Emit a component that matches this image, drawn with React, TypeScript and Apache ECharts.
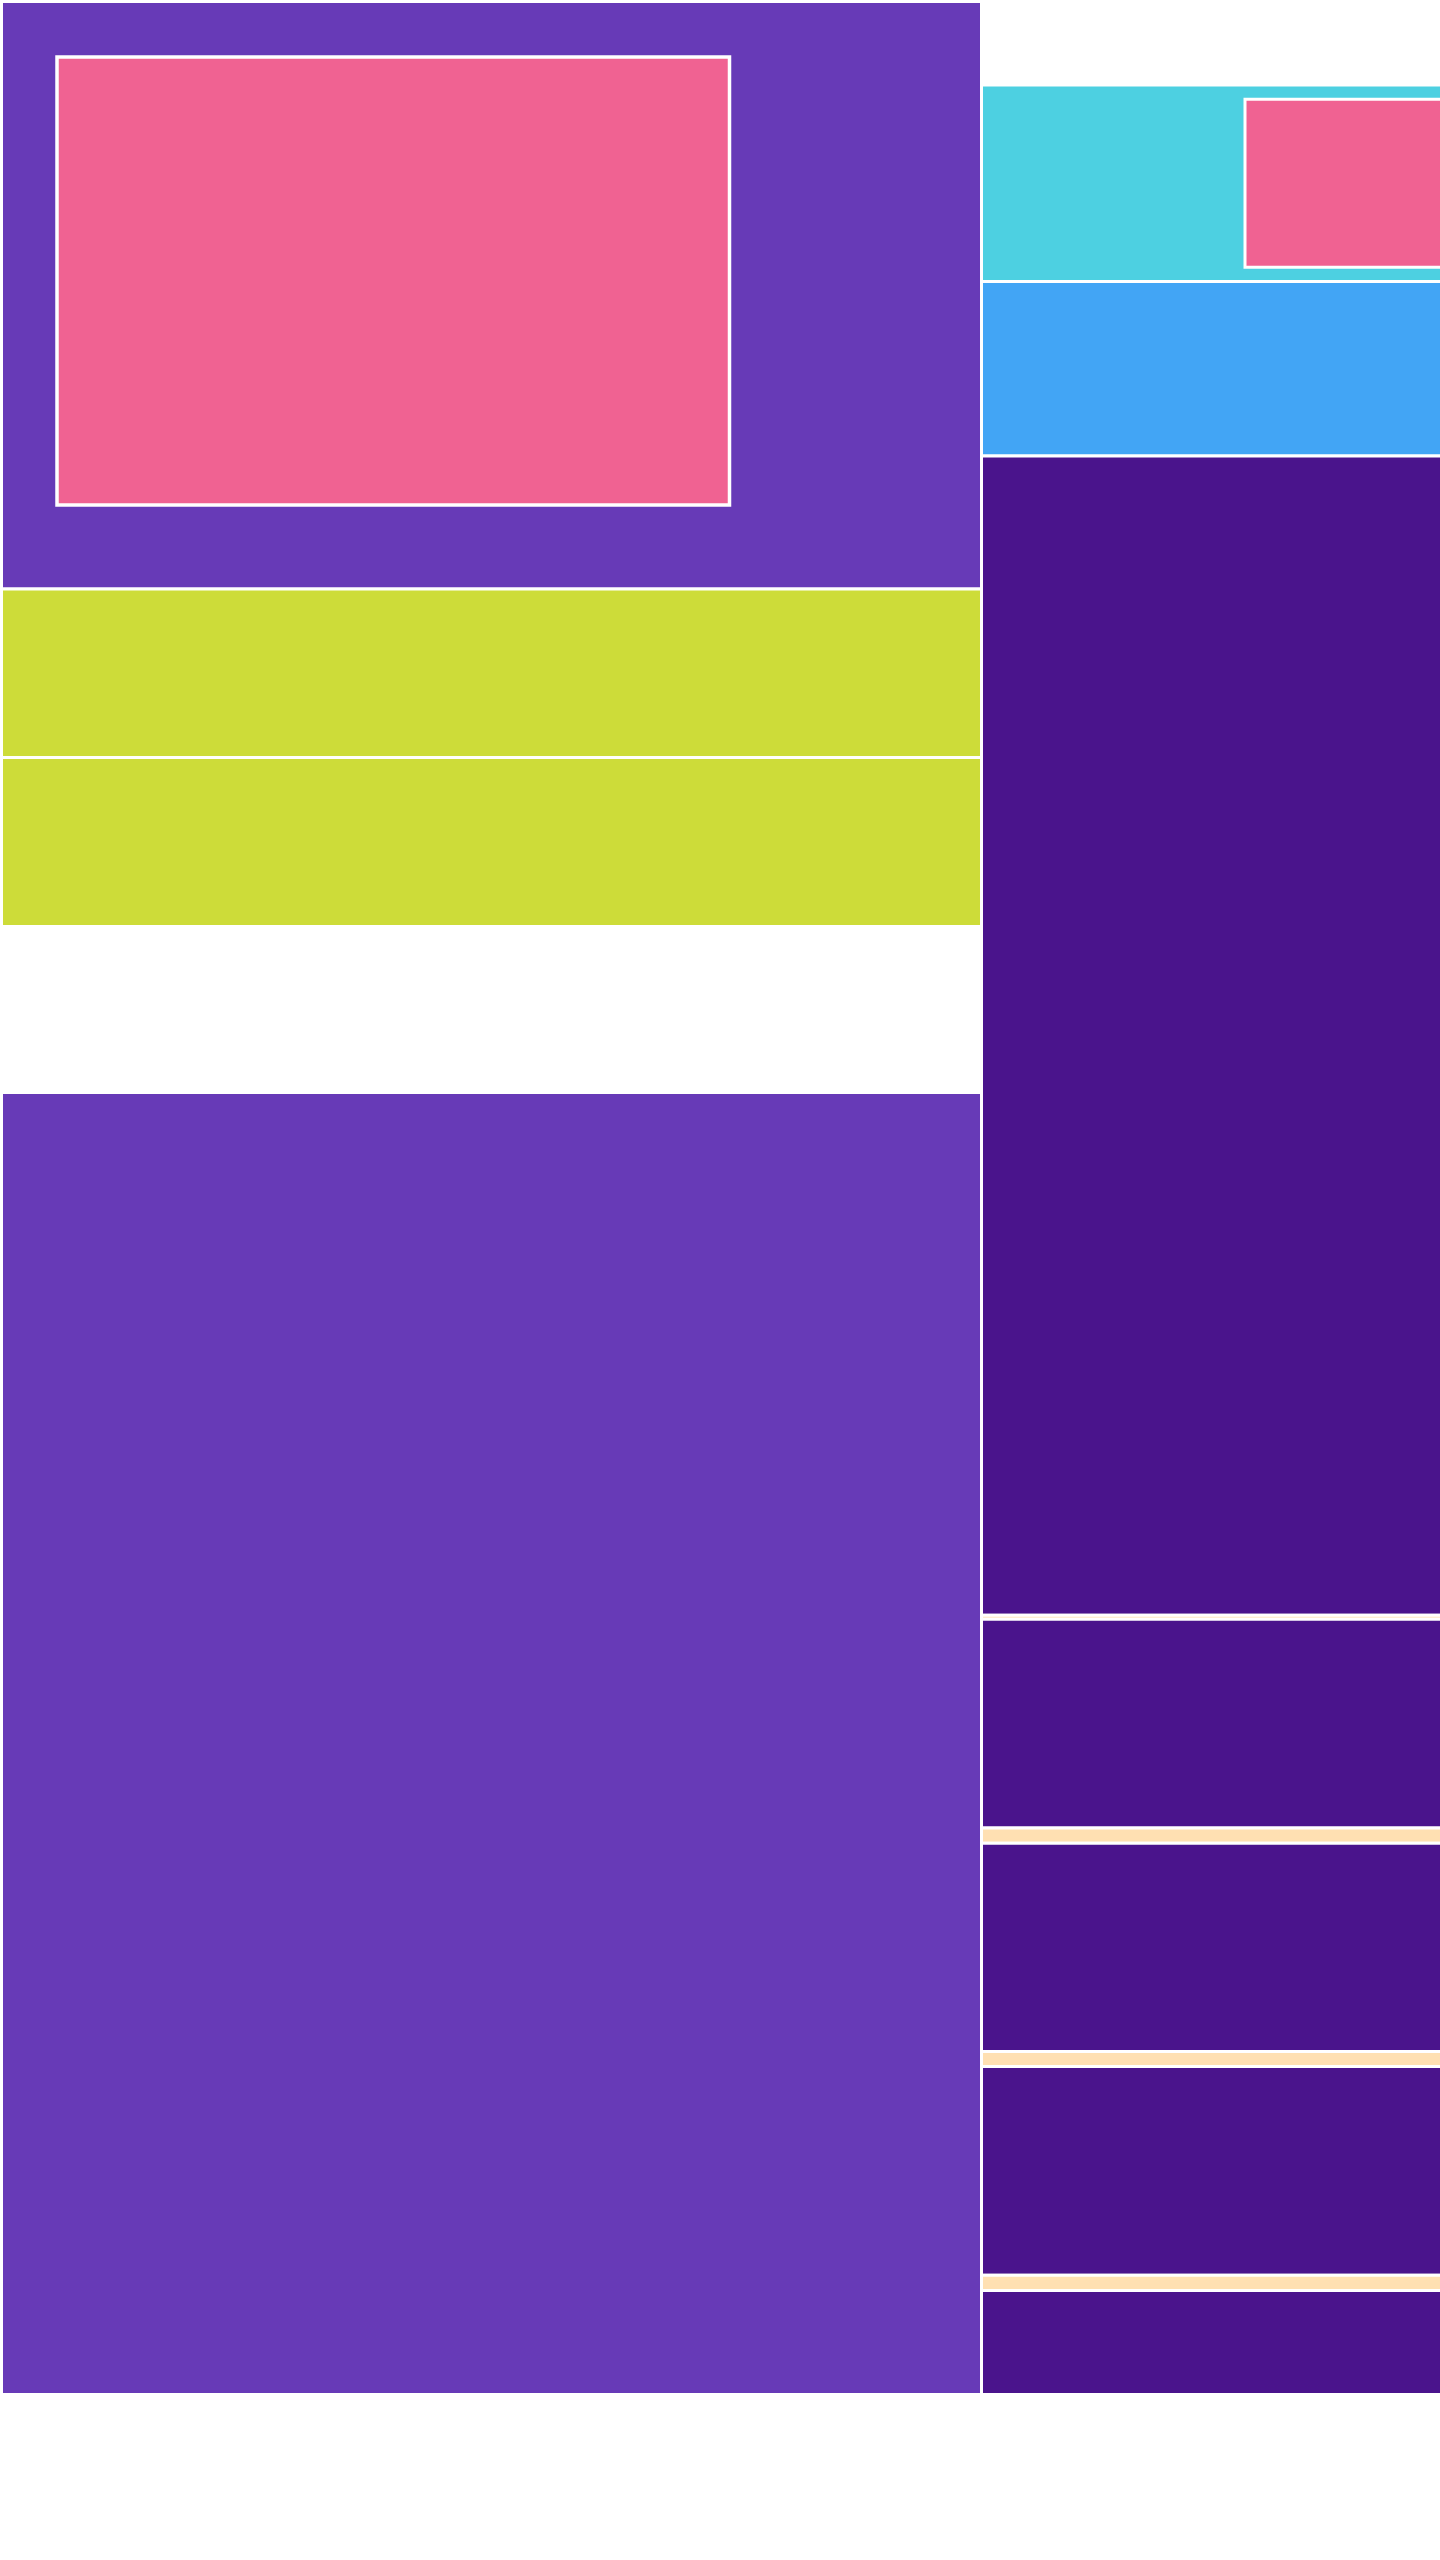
import React, { useEffect, useRef } from "react";
import * as echarts from "echarts";

// Blocks of the mosaic (axis units = page pixels)
const blockNames = [
  "north", "north-core", "band-1", "band-2", "south",
  "east-1", "east-1-core", "east-2", "east-3", "gap-0", "east-4",
  "gap-1", "east-5", "gap-2", "east-6", "gap-3", "east-7",
];
const blockX0 = [1.5, 57, 1.5, 1.5, 1.5, 981.5, 1245, 981.5, 981.5, 981.5, 981.5, 981.5, 981.5, 981.5, 981.5, 981.5, 981.5];
const blockX1 = [981.5, 729.5, 981.5, 981.5, 981.5, 1450, 1450, 1450, 1450, 1450, 1450, 1450, 1450, 1450, 1450, 1450, 1450];
const blockY0 = [1.5, 57, 589, 757.5, 1092.5, 85, 99.2, 281.5, 456, 1615.2, 1619.2, 1828, 1843.2, 2051.6, 2066.5, 2275.2, 2290.4];
const blockY1 = [589, 505, 757.5, 926.5, 2394.5, 281.5, 267.3, 456, 1615.2, 1619.2, 1828, 1843.2, 2051.6, 2066.5, 2275.2, 2290.4, 2394.5];
const blockGroup = [
  "purple", "pink", "lime", "lime", "purple",
  "cyan", "pink", "blue", "deep", "cream", "deep",
  "cream", "deep", "cream", "deep", "cream", "deep",
];

const palette: Record<string, string> = {
  purple: "#673AB7",
  pink: "#F06292",
  lime: "#CDDC39",
  cyan: "#4DD0E1",
  blue: "#42A5F5",
  deep: "#4A148C",
  cream: "#FFE0B2",
};

export default function App() {
  const ref = useRef<HTMLDivElement>(null);
  useEffect(() => {
    if (!ref.current) return;
    const chart = echarts.init(ref.current, undefined, { renderer: "svg" });
    const data = blockNames.map((name, i) => ({
      name,
      value: [blockX0[i], blockX1[i], blockY0[i], blockY1[i], i],
    }));
    chart.setOption({
      animation: false,
      grid: { left: 0, right: 0, top: 0, bottom: 0 },
      xAxis: { type: "value", min: 0, max: 1440, show: false },
      yAxis: { type: "value", min: 0, max: 2560, inverse: true, show: false },
      series: [
        {
          type: "custom",
          encode: { x: [0, 1], y: [2, 3] },
          data,
          renderItem: (params: any, api: any) => {
            const idx = api.value(4);
            const p0 = api.coord([api.value(0), api.value(2)]);
            const p1 = api.coord([api.value(1), api.value(3)]);
            const group = blockGroup[idx];
            return {
              type: "rect",
              shape: { x: p0[0], y: p0[1], width: p1[0] - p0[0], height: p1[1] - p0[1] },
              style: {
                fill: palette[group],
                stroke: "#ffffff",
                lineWidth: blockNames[idx] === "north-core" ? 3.5 : 3,
              },
            };
          },
        },
      ],
    });
    return () => chart.dispose();
  }, []);
  return (
    <div
      ref={ref}
      style={{ position: "absolute", left: 0, top: 0, width: 1440, height: 2560, background: "#fff" }}
    />
  );
}
